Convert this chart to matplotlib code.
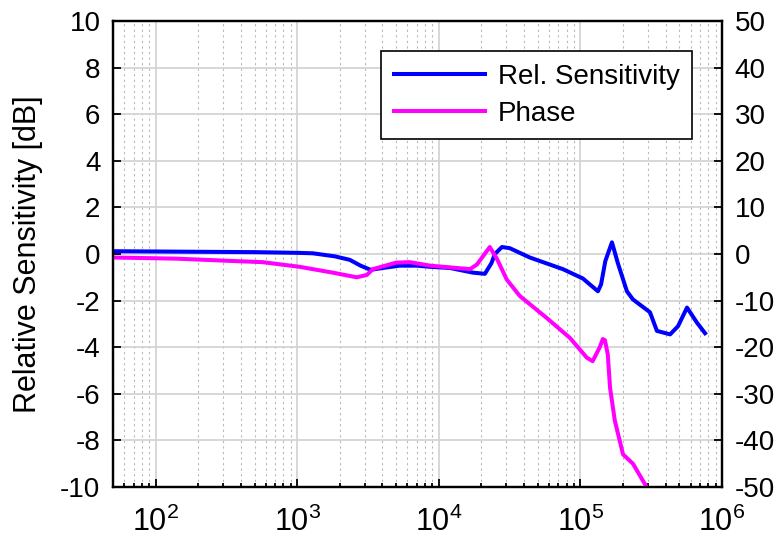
import matplotlib
matplotlib.use("Agg")
import matplotlib.pyplot as plt
from matplotlib.ticker import LogLocator, FixedLocator, NullFormatter, FixedFormatter

plt.rcParams['font.family'] = ['Liberation Sans', 'DejaVu Sans']
plt.rcParams['mathtext.fontset'] = 'custom'
plt.rcParams['mathtext.rm'] = 'Liberation Sans'
plt.rcParams['mathtext.it'] = 'Liberation Sans'
plt.rcParams['mathtext.default'] = 'regular'

# ---- data ----
sens_freq = [50, 150, 500, 1000, 1290, 1840, 2350, 2800, 3300, 4020, 5300, 7000,
             8700, 12000, 17400, 21150, 23500, 24900, 27900, 31700, 43900, 75200,
             104000, 133000, 140000, 150000, 167000, 184000, 213000, 235000,
             310000, 347000, 430000, 489000, 566000, 666000, 759000]
sens_db = [0.12, 0.1, 0.08, 0.05, 0.03, -0.1, -0.25, -0.5, -0.68, -0.6, -0.5, -0.5,
           -0.55, -0.6, -0.8, -0.85, -0.4, 0.0, 0.3, 0.25, -0.15, -0.65,
           -1.05, -1.6, -1.3, -0.3, 0.5, -0.4, -1.6, -1.95,
           -2.5, -3.3, -3.45, -3.1, -2.3, -2.95, -3.4]

phase_freq = [50, 141, 350, 570, 1040, 1780, 2630, 3100, 3420, 5000, 6240, 8700,
              16600, 18600, 22900, 25700, 30200, 37300, 57900, 84300, 111000,
              122000, 137000, 144000, 149000, 156000, 162000, 175000, 200000,
              235000, 300000]
phase_deg = [-0.75, -1.0, -1.5, -1.75, -2.75, -4.0, -5.0, -4.5, -3.25, -1.85, -1.75, -2.5,
             -3.25, -2.25, 1.5, -1.0, -5.5, -9.0, -13.75, -18.0, -22.25,
             -23.0, -20.0, -18.25, -18.5, -21.5, -28.75, -35.75, -43.0,
             -45.0, -50.5]

left_ticks = [10, 8, 6, 4, 2, 0, -2, -4, -6, -8, -10]
right_ticks = [50, 40, 30, 20, 10, 0, -10, -20, -30, -40, -50]
x_ticks = [1e2, 1e3, 1e4, 1e5, 1e6]
x_tick_labels = ['$10^{2}$', '$10^{3}$', '$10^{4}$', '$10^{5}$', '$10^{6}$']
series_labels = ['Rel. Sensitivity', 'Phase']
y_label = 'Relative Sensitivity [dB]'

# ---- figure ----
fig = plt.figure(figsize=(7.83, 5.51), dpi=100)
ax = fig.add_axes([113/783, 1-487/551, (722-113)/783, (487-21)/551])
ax2 = ax.twinx()

fs = 20
l1, = ax.plot(sens_freq, sens_db, color='#0000ff', lw=2.9, solid_joinstyle='round')
l2, = ax2.plot(phase_freq, phase_deg, color='#ff00ff', lw=2.9, solid_joinstyle='round')

ax.set_xscale('log')
ax.set_xlim(50, 1e6)
ax.set_ylim(-10, 10)
ax2.set_ylim(-50, 50)

ax.xaxis.set_major_locator(FixedLocator(x_ticks))
ax.xaxis.set_major_formatter(FixedFormatter(x_tick_labels))
ax.xaxis.set_minor_locator(LogLocator(base=10, subs=range(2, 10), numticks=20))
ax.xaxis.set_minor_formatter(NullFormatter())
ax.set_yticks(left_ticks)
ax.set_yticklabels([str(t) for t in left_ticks])
ax2.set_yticks(right_ticks)
ax2.set_yticklabels([str(t) for t in right_ticks])

ax.grid(True, which='major', color='#d4d4d4', lw=1.3)
ax.grid(True, which='minor', axis='x', color='#b8b8b8', lw=0.8, ls=(0, (2, 3)))
ax.set_axisbelow(True)

for a in (ax, ax2):
    a.tick_params(which='both', direction='in', labelsize=fs, colors='black', width=1.3)
    a.tick_params(which='major', length=6, pad=9)
    a.tick_params(which='minor', length=3)
    for s in a.spines.values():
        s.set_linewidth(1.6)
        s.set_color('black')
ax.tick_params(axis='x', which='both', pad=14, top=False, labelsize=22)
ax.tick_params(axis='y', which='both', right=False)

ax.set_ylabel(y_label, fontsize=22)
ax.yaxis.set_label_coords(-0.115, 0.5)

leg = ax2.legend([l1, l2], series_labels, loc='upper right',
                 bbox_to_anchor=(0.951, 0.935), fontsize=fs, frameon=True,
                 fancybox=False, edgecolor='black', framealpha=1,
                 handlelength=3.3, handletextpad=0.45, labelspacing=0.4,
                 borderpad=0.45, borderaxespad=0)
leg.get_frame().set_linewidth(1.2)

fig.savefig('out.png', dpi=100)
